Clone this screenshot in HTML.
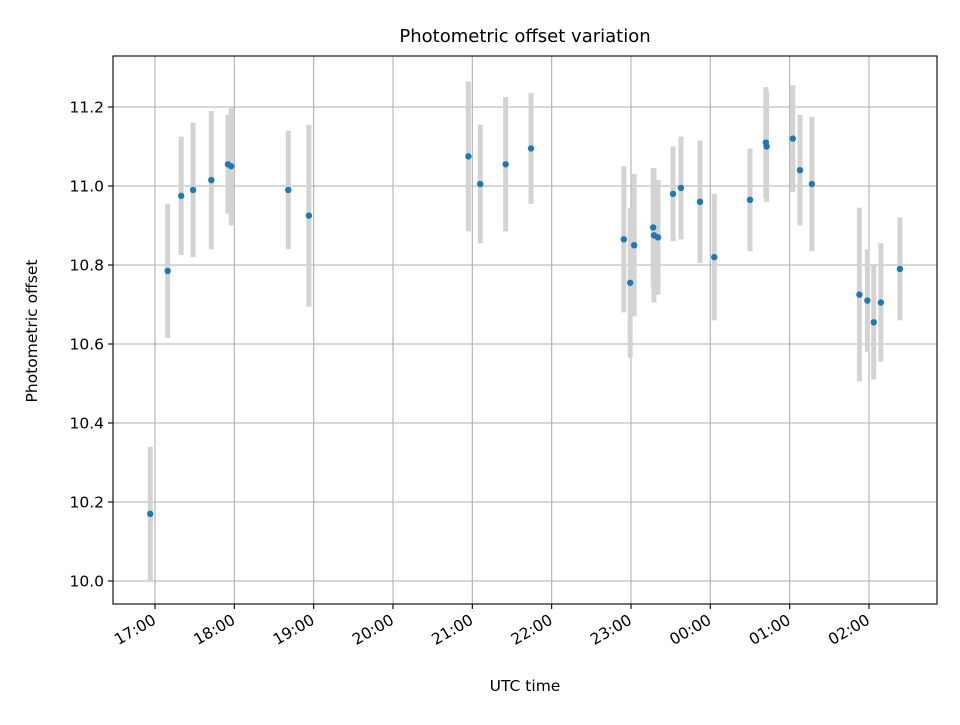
<!DOCTYPE html>
<html><head><meta charset="utf-8"><style>
body{margin:0;background:#fff;font-family:"Liberation Sans","DejaVu Sans",sans-serif}
svg text{font-family:"DejaVu Sans","Liberation Sans",sans-serif;fill:#000}
</style></head><body>
<svg id="chart" width="960" height="720" xmlns="http://www.w3.org/2000/svg">
<rect width="960" height="720" fill="#fff"/>
<text x="525" y="42" text-anchor="middle" font-size="18">Photometric offset variation</text>
<g id="grid"></g><g id="bars"></g><g id="pts"></g><g id="axes"></g>
<rect x="113" y="56" width="824" height="548" fill="none" stroke="#000" stroke-width="1.1"/>
<text x="525" y="691" text-anchor="middle" font-size="15.5">UTC time</text>
<text transform="translate(37,331) rotate(-90)" text-anchor="middle" font-size="15.5">Photometric offset</text>
</svg>
<script>
// hours since 17:00 UTC
const times=[-0.06,0.16,0.33,0.48,0.71,0.92,0.96,1.68,1.94,3.95,4.10,4.42,4.74,5.91,5.99,6.04,6.28,6.29,6.34,6.53,6.63,6.87,7.05,7.50,7.70,7.71,8.04,8.13,8.28,8.88,8.98,9.06,9.15,9.39];
const offsets=[10.17,10.785,10.975,10.99,11.015,11.055,11.05,10.99,10.925,11.075,11.005,11.055,11.095,10.865,10.755,10.85,10.895,10.875,10.87,10.98,10.995,10.96,10.82,10.965,11.11,11.10,11.12,11.04,11.005,10.725,10.71,10.655,10.705,10.79];
const errors=[0.17,0.17,0.15,0.17,0.175,0.125,0.15,0.15,0.23,0.19,0.15,0.17,0.14,0.185,0.19,0.18,0.15,0.17,0.145,0.12,0.13,0.155,0.16,0.13,0.14,0.14,0.135,0.14,0.17,0.22,0.13,0.145,0.15,0.13];
const xTickHours=[0,1,2,3,4,5,6,7,8,9];
const xTickLabels=["17:00","18:00","19:00","20:00","21:00","22:00","23:00","00:00","01:00","02:00"];
const yTicks=[10.0,10.2,10.4,10.6,10.8,11.0,11.2];
const NS="http://www.w3.org/2000/svg";
const X=h=>155+h*79.33;
const Y=v=>581-(v-10)*395;
function mk(tag,attrs,parent){const e=document.createElementNS(NS,tag);for(const k in attrs)e.setAttribute(k,attrs[k]);document.getElementById(parent).appendChild(e);return e;}
xTickHours.forEach((h,i)=>{
  const x=X(h);
  const g=mk('line',{x1:x,x2:x,y1:56,y2:604,stroke:'#b0b0b0','stroke-width':1.1},'grid');
  
  
  const t=mk('line',{x1:x,x2:x,y1:604,y2:609,stroke:'#000','stroke-width':1.1},'axes');
  
  
  const l=mk('text',{x:x+2,y:623,'text-anchor':'end','font-size':15.5,transform:`rotate(-30 ${x+2} 623)`},'axes');
  
  
  l.textContent=xTickLabels[i];
});
yTicks.forEach(v=>{
  const y=Y(v);
  const g=mk('line',{x1:113,x2:937,y1:y,y2:y,stroke:'#b0b0b0','stroke-width':1.1},'grid');
  
  
  const t=mk('line',{x1:108,x2:113,y1:y,y2:y,stroke:'#000','stroke-width':1.1},'axes');
  
  
  const l=mk('text',{x:104,y:y+5.5,'text-anchor':'end','font-size':15.5},'axes');
  
  
  l.textContent=v.toFixed(1);
});
times.forEach((h,i)=>{
  const x=X(h);
  const b=mk('line',{x1:x,x2:x,y1:Y(offsets[i]-errors[i]),y2:Y(offsets[i]+errors[i]),stroke:'#d3d3d3','stroke-width':5},'bars');
  
  
  const p=mk('circle',{cx:x,cy:Y(offsets[i]),r:3.2,fill:'#1f77b4'},'pts');
  
  
});
</script>
</body></html>
